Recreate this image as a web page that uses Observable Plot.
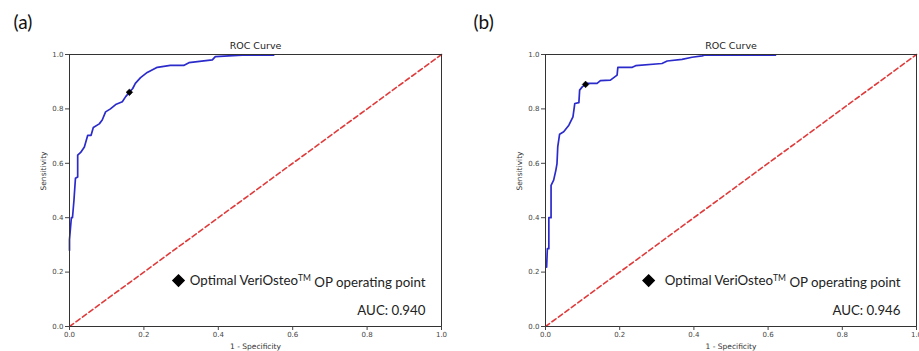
<!DOCTYPE html>
<html>
<head>
<meta charset="utf-8">
<script src="https://cdn.jsdelivr.net/npm/d3@7"></script>
<script src="https://cdn.jsdelivr.net/npm/@observablehq/plot@0.6"></script>
<style>
  html, body { margin: 0; padding: 0; background: #fff; }
  #wrap { position: relative; width: 919px; height: 351px; overflow: hidden; }
  .panel { position: absolute; top: 0; }
  svg { font-family: "DejaVu Sans", sans-serif; }
</style>
</head>
<body>
<div id="wrap">
  <div class="panel" id="pa" style="left:0px"></div>
  <div class="panel" id="pb" style="left:460px"></div>
</div>
<script>
// ---- data ----
const tickValues = [0, 0.2, 0.4, 0.6, 0.8, 1.0];
const diagX = [0, 1];
const diagY = [0, 1];

// Panel (a) ROC curve
const rocAx = [0, 0, 0.005, 0.008, 0.012, 0.016, 0.022, 0.022, 0.030, 0.040, 0.049, 0.058, 0.064, 0.080, 0.088, 0.097, 0.110, 0.124, 0.142, 0.151, 0.161, 0.170, 0.177, 0.191, 0.209, 0.236, 0.271, 0.307, 0.321, 0.384, 0.392, 0.464, 0.549];
const rocAy = [0.28, 0.32, 0.40, 0.40, 0.464, 0.545, 0.55, 0.63, 0.64, 0.66, 0.703, 0.703, 0.732, 0.745, 0.759, 0.789, 0.80, 0.816, 0.826, 0.845, 0.861, 0.875, 0.894, 0.915, 0.934, 0.953, 0.960, 0.960, 0.970, 0.980, 0.992, 0.998, 0.998];
const opA = [0.161, 0.861];
const aucA = "AUC: 0.940";

// Panel (b) ROC curve
const rocBx = [0.003, 0.005, 0.009, 0.009, 0.015, 0.015, 0.022, 0.028, 0.031, 0.033, 0.038, 0.049, 0.063, 0.074, 0.079, 0.090, 0.092, 0.099, 0.108, 0.112, 0.139, 0.148, 0.175, 0.193, 0.195, 0.234, 0.243, 0.314, 0.328, 0.368, 0.395, 0.422, 0.43, 0.62];
const rocBy = [0.218, 0.286, 0.286, 0.40, 0.40, 0.519, 0.538, 0.575, 0.599, 0.660, 0.707, 0.716, 0.740, 0.771, 0.820, 0.823, 0.869, 0.881, 0.890, 0.894, 0.894, 0.904, 0.906, 0.924, 0.953, 0.953, 0.959, 0.967, 0.976, 0.982, 0.990, 0.995, 0.998, 0.998];
const opB = [0.108, 0.890];
const aucB = "AUC: 0.946";

const titleText = "ROC Curve";
const xLabel = "1 - Specificity";
const yLabel = "Sensitivity";
const legendText = "Optimal VeriOsteoTM OP operating point";
const panelLabels = ["(a)", "(b)"];

function panel({xs, ys, op, auc, label, width, marginLeft, marginRight, legendDiamondX}) {
  const roc = xs.map((x, i) => ({x, y: ys[i]}));
  const diag = diagX.map((x, i) => ({x, y: diagY[i]}));
  const annoFont = "Lato, 'Open Sans', sans-serif";
  const plot = Plot.plot({
    width, height: 351,
    marginLeft, marginRight, marginTop: 54, marginBottom: 25,
    style: {background: "#fff", overflow: "visible"},
    x: {domain: [0, 1]},
    y: {domain: [0, 1]},
    marks: [
      Plot.line(diag, {x: "x", y: "y", stroke: "#e03a3a", strokeWidth: 1.6, strokeDasharray: "5,3"}),
      Plot.line(roc, {x: "x", y: "y", stroke: "#2b2bcc", strokeWidth: 1.7, curve: "linear"}),
      Plot.dot([op], {x: d => d[0], y: d => d[1], symbol: "diamond2", r: 3, fill: "black", stroke: "black", strokeWidth: 0.5}),
      Plot.frame({stroke: "#333", strokeWidth: 1}),
      Plot.axisX({ticks: tickValues, tickFormat: d3.format(".1f"), tickSize: 4, tickPadding: 2, fontSize: 7, label: null, color: "#444"}),
      Plot.axisY({ticks: tickValues, tickFormat: d3.format(".1f"), tickSize: 4, tickPadding: 2, fontSize: 7, label: null, color: "#444"}),
      Plot.text([titleText], {text: d => d, frameAnchor: "top", lineAnchor: "middle", dy: -9, fontSize: 9.5, fill: "#222"}),
      Plot.text([xLabel], {text: d => d, frameAnchor: "bottom", lineAnchor: "middle", dy: 20, fontSize: 7.5, fill: "#333"}),
      Plot.text([yLabel], {text: d => d, frameAnchor: "left", lineAnchor: "middle", dx: -26, rotate: -90, fontSize: 7.5, fill: "#333"}),
      Plot.text([label], {text: d => d, frameAnchor: "top-left", lineAnchor: "middle", dx: -marginLeft + 13, dy: -32, textAnchor: "start", fontSize: 19, fill: "#111", fontFamily: annoFont}),
      Plot.dot([legendDiamondX], {x: d => d, y: 0.169, symbol: "diamond2", r: 5, fill: "black", stroke: "black"}),
      Plot.text([legendText], {text: d => d, x: 0.957, y: 0.169, textAnchor: "end", fontSize: 13.3, fill: "#222", fontFamily: annoFont, className: "legend-text"}),
      Plot.text([auc], {text: d => d, x: 0.957, y: 0.059, textAnchor: "end", fontSize: 13.3, fill: "#222", fontFamily: annoFont})
    ]
  });
  // superscript TM
  d3.select(plot).selectAll(".legend-text text").each(function() {
    const t = d3.select(this);
    const s = t.text();
    const i = s.indexOf("TM");
    if (i < 0) return;
    t.text(null);
    t.append("tspan").text(s.slice(0, i));
    t.append("tspan").attr("dy", "-0.45em").attr("font-size", "8.5").text("TM");
    t.append("tspan").attr("dy", "0.45em").text(s.slice(i + 2));
  });
  return plot;
}

document.getElementById("pa").appendChild(panel({
  xs: rocAx, ys: rocAy, op: opA, auc: aucA, label: panelLabels[0],
  width: 460, marginLeft: 69, marginRight: 19, legendDiamondX: 0.293
}));
document.getElementById("pb").appendChild(panel({
  xs: rocBx, ys: rocBy, op: opB, auc: aucB, label: panelLabels[1],
  width: 459, marginLeft: 85, marginRight: 3, legendDiamondX: 0.278
}));
</script>
</body>
</html>
